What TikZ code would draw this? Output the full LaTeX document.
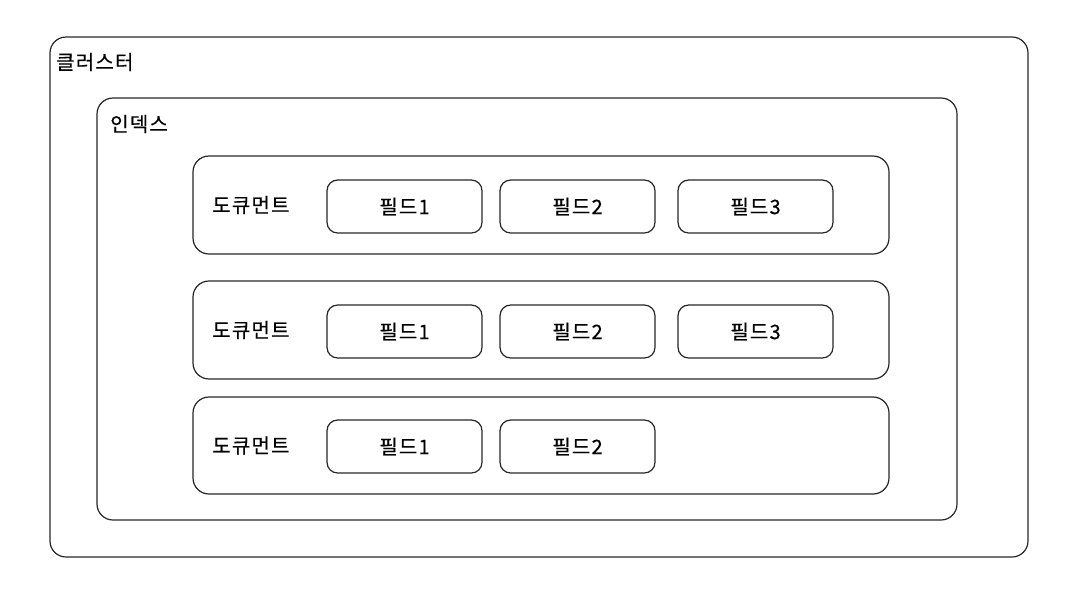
\documentclass[tikz,border=0pt]{standalone}
\usepackage{fontspec}
\setmainfont{Noto Sans CJK KR}[FakeBold=0.5,LetterSpace=6]
\begin{document}
\begin{tikzpicture}[x=0.75pt,y=-0.75pt,
  box/.style={draw=black!85,line width=0.9pt,rounded corners=12pt},
  fbox/.style={draw=black!85,line width=0.9pt,rounded corners=8pt},
  lbl/.style={font=\fontsize{15}{17}\selectfont,anchor=west,inner sep=0pt},
  flbl/.style={font=\fontsize{15}{17}\selectfont,inner sep=0pt}]
\useasboundingbox (0,0) rectangle (1069,590);
\draw[box] (50,37) rectangle (1028,557);
\node[lbl] (cl) at (56,62) {클러스터};
\draw[box] (97,98) rectangle (957,520);
\node[lbl] (ix) at (110,124) {인덱스};
\foreach \i/\yt/\yb/\ft/\fb in {1/156/254/180/233, 2/281/379/305/358, 3/397/494/420/473}{
  \draw[box] (193,\yt) rectangle (889,\yb);
  \node[lbl] (d\i) at (212,{(\yt+\yb)/2}) {도큐먼트};
  \draw[fbox] (327,\ft) rectangle (482,\fb);
  \node[flbl] (f\i a) at (404.5,{(\ft+\fb)/2}) {필드1};
  \draw[fbox] (500,\ft) rectangle (655,\fb);
  \node[flbl] (f\i b) at (577.5,{(\ft+\fb)/2}) {필드2};
}
\foreach \i/\ft/\fb in {1/180/233, 2/305/358}{
  \draw[fbox] (678,\ft) rectangle (833,\fb);
  \node[flbl] (f\i c) at (755.5,{(\ft+\fb)/2}) {필드3};
}
\end{tikzpicture}
\end{document}
